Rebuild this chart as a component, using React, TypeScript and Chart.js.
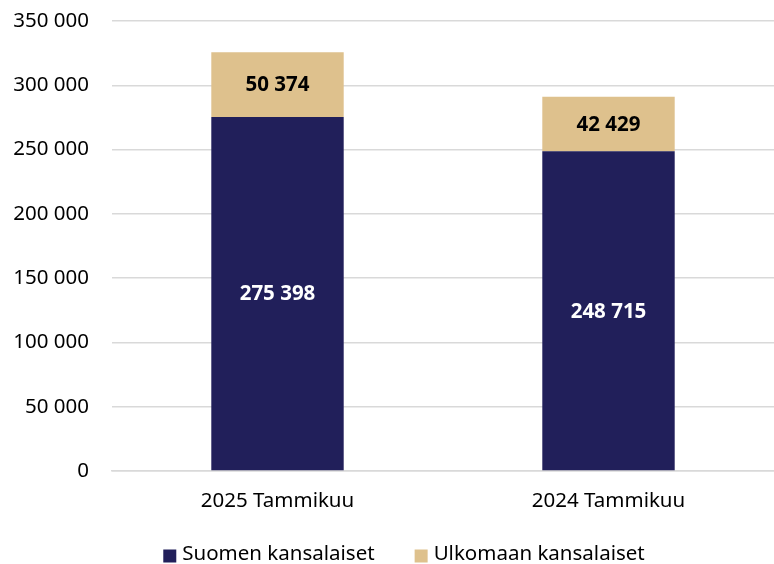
import React, { useEffect, useRef } from "react";
import { Chart, registerables } from "chart.js";

Chart.register(...registerables);

const categories = ["2025 Tammikuu", "2024 Tammikuu"];
const suomenValues = [275398, 248715];
const ulkomaanValues = [50374, 42429];
const seriesNames = ["Suomen kansalaiset", "Ulkomaan kansalaiset"];
const yMin = 0;
const yMax = 350000;
const yStep = 50000;

const NAVY = "#211F5A";
const TAN = "#DEC18D";
const FONT = "'Noto Sans', 'Open Sans', sans-serif";

const fmt = (v: number) =>
  Math.round(v).toString().replace(/\B(?=(\d{3})+(?!\d))/g, " ");

const labelPlugin = {
  id: "barLabels",
  afterDatasetsDraw(chart: any) {
    const ctx = chart.ctx;
    ctx.save();
    ctx.font = `bold 20.5px ${FONT}`;
    ctx.textAlign = "center";
    ctx.textBaseline = "middle";
    chart.data.datasets.forEach((ds: any, di: number) => {
      const meta = chart.getDatasetMeta(di);
      meta.data.forEach((el: any, i: number) => {
        const v = ds.data[i];
        const cy = (el.y + el.base) / 2;
        ctx.fillStyle = di === 0 ? "#FFFFFF" : "#000000";
        ctx.fillText(fmt(v), el.x, cy + 1);
      });
    });
    ctx.restore();
  },
};

const legendPlugin = {
  id: "customLegend",
  afterDraw(chart: any) {
    const ctx = chart.ctx;
    ctx.save();
    ctx.font = `20.5px ${FONT}`;
    ctx.textBaseline = "middle";
    ctx.textAlign = "left";
    const box = 13;
    const gapBoxText = 6;
    const gapItems = 40;
    const items = chart.data.datasets.map((ds: any) => ({
      label: ds.label,
      color: ds.backgroundColor,
      w: ctx.measureText(ds.label).width,
    }));
    const total =
      items.reduce((s: number, it: any) => s + box + gapBoxText + it.w, 0) +
      gapItems * (items.length - 1);
    let x = chart.width / 2 + 17 - total / 2;
    const cy = chart.height - 10;
    items.forEach((it: any) => {
      ctx.fillStyle = it.color;
      ctx.fillRect(x, cy - box / 2 + 2, box, box);
      x += box + gapBoxText;
      ctx.fillStyle = "#000";
      ctx.fillText(it.label, x, cy);
      x += it.w + gapItems;
    });
    ctx.restore();
  },
};

export default function App() {
  const ref = useRef<HTMLCanvasElement | null>(null);

  useEffect(() => {
    if (!ref.current) return;
    const chart = new Chart(ref.current, {
      type: "bar",
      data: {
        labels: categories,
        datasets: [
          {
            label: seriesNames[0],
            data: suomenValues,
            backgroundColor: NAVY,
            categoryPercentage: 1,
            barPercentage: 0.4,
          },
          {
            label: seriesNames[1],
            data: ulkomaanValues,
            backgroundColor: TAN,
            categoryPercentage: 1,
            barPercentage: 0.4,
          },
        ],
      },
      options: {
        animation: false,
        responsive: true,
        maintainAspectRatio: false,
        layout: { padding: { top: 21, left: 0, right: -4, bottom: 24 } },
        plugins: {
          legend: { display: false },
          tooltip: { enabled: false },
        },
        scales: {
          x: {
            stacked: true,
            grid: { display: false, drawTicks: false },
            border: { display: true, color: "#d9d9d9", width: 1.5 },
            ticks: {
              color: "#000",
              padding: 18,
              font: { family: FONT, size: 20.5 },
            },
            afterFit: (scale: any) => {
              scale.height = 69;
              scale.paddingLeft = 0;
              scale.paddingRight = 0;
            },
          },
          y: {
            stacked: true,
            min: yMin,
            max: yMax,
            grid: { color: "#d9d9d9", lineWidth: 1.5, drawTicks: false },
            border: { display: false },
            ticks: {
              stepSize: yStep,
              color: "#000",
              padding: 23,
              font: { family: FONT, size: 20.5 },
              callback: (v: any) => fmt(Number(v)),
            },
            afterFit: (scale: any) => {
              scale.width = 112;
              scale.paddingTop = 0;
              scale.paddingBottom = 0;
            },
          },
        },
      },
      plugins: [labelPlugin, legendPlugin],
    } as any);
    return () => chart.destroy();
  }, []);

  return (
    <div
      style={{
        position: "absolute",
        left: 0,
        top: 0,
        width: 774,
        height: 564,
        background: "#fff",
      }}
    >
      <canvas ref={ref} />
    </div>
  );
}
